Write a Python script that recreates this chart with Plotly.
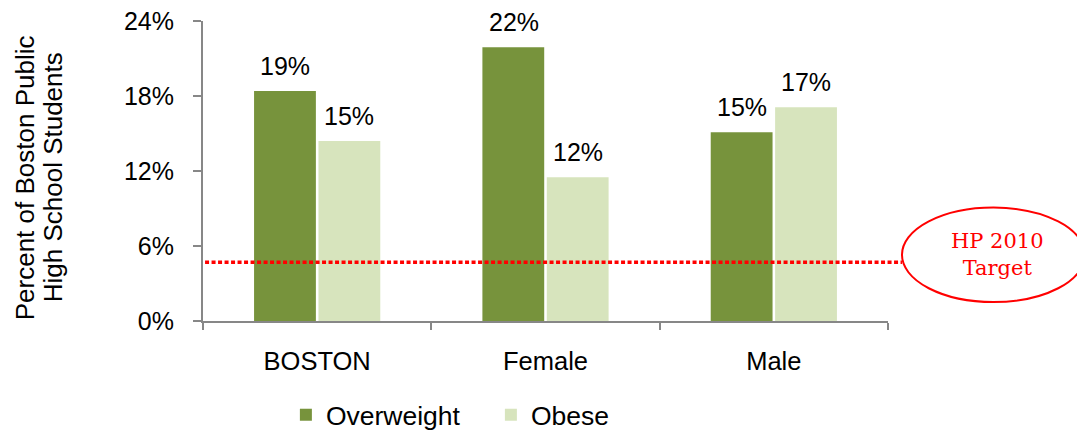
import plotly.graph_objects as go

categories = ["BOSTON", "Female", "Male"]
overweight = [18.4, 21.9, 15.1]
obese = [14.4, 11.5, 17.1]
overweight_labels = ["19%", "22%", "15%"]
obese_labels = ["15%", "12%", "17%"]
target_value = 4.7
y_ticks = [0, 6, 12, 18, 24]
y_tick_labels = ["0%", "6%", "12%", "18%", "24%"]
y_title_lines = ["Percent of Boston Public", "High School Students"]

GREEN = "#77933C"
LIGHT = "#D7E4BD"
AXIS = "#878787"
FONT = "Liberation Sans, Arial, sans-serif"

fig = go.Figure()
fig.add_trace(go.Bar(name="Overweight", x=categories, y=overweight,
                     marker=dict(color=GREEN, line=dict(width=0))))
fig.add_trace(go.Bar(name="Obese", x=categories, y=obese,
                     marker=dict(color=LIGHT, line=dict(width=0))))

# data labels
for cat, v, t in zip(categories, overweight, overweight_labels):
    fig.add_annotation(x=cat, y=v, text=t, showarrow=False, xshift=-32,
                       xanchor="center", yanchor="bottom", yshift=9,
                       font=dict(family=FONT, size=25, color="#000000"))
for cat, v, t in zip(categories, obese, obese_labels):
    fig.add_annotation(x=cat, y=v, text=t, showarrow=False, xshift=32,
                       xanchor="center", yanchor="bottom", yshift=9,
                       font=dict(family=FONT, size=25, color="#000000"))

# target line
fig.add_shape(type="line", xref="paper", yref="y", x0=0.003, x1=1.0204,
              y0=target_value, y1=target_value,
              line=dict(color="#FF0000", width=3.5, dash="4px,2.5px"))
# ellipse
fig.add_shape(type="circle", xref="paper", yref="paper",
              x0=1.0204, x1=1.2876, y0=0.063, y1=0.378,
              line=dict(color="#FF0000", width=2))
fig.add_annotation(xref="paper", yref="paper", x=1.1599, y=0.2215,
                   xanchor="center", yanchor="middle",
                   text="HP 2010<br>Target", showarrow=False,
                   font=dict(family="DejaVu Serif, serif", size=21, color="#FF0000"))

# y axis title (two rotated lines)
for xpos, line in zip([-0.2599, -0.219], y_title_lines):
    fig.add_annotation(xref="paper", yref="paper", x=xpos, y=0.479,
                       xanchor="center", yanchor="middle",
                       text=line, textangle=-90, showarrow=False,
                       font=dict(family=FONT, size=26, color="#000000"))

# page body has an 8px margin, so the figure is sized/offset to compensate
fig.update_layout(
    width=1077, height=423,
    margin=dict(l=195, r=197, t=13, b=110, autoexpand=False),
    plot_bgcolor="white", paper_bgcolor="white",
    barmode="group", bargap=0.436, bargroupgap=0.04,
    font=dict(family=FONT, size=25, color="#000000"),
    showlegend=True,
    legend=dict(orientation="h", x=0.121, xanchor="left",
                yref="container", y=0.0378, yanchor="middle",
                font=dict(family=FONT, size=26.5, color="#000000"),
                itemwidth=30, entrywidth=160,
                bgcolor="rgba(0,0,0,0)"),
    xaxis=dict(showline=True, linecolor=AXIS, linewidth=2,
               ticks="outside", tickson="boundaries", ticklen=7,
               tickcolor=AXIS, tickwidth=2, showgrid=False,
               ticklabelstandoff=16, automargin=False,
               tickfont=dict(family=FONT, size=25.5, color="#000000")),
    yaxis=dict(range=[0, 24], tickvals=y_ticks, ticktext=y_tick_labels,
               showline=True, linecolor=AXIS, linewidth=2,
               ticks="outside", ticklen=8, tickcolor=AXIS, tickwidth=2,
               showgrid=False, zeroline=False, ticklabelstandoff=14,
               ticklabeloverflow="allow", automargin=False,
               tickfont=dict(family=FONT, size=25, color="#000000")),
)

fig.write_html("out.html")
